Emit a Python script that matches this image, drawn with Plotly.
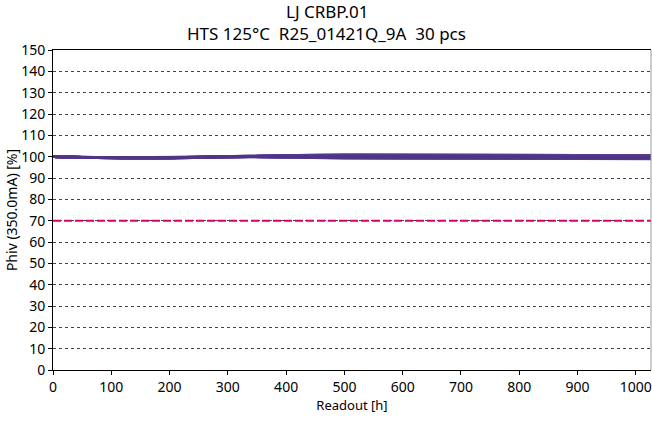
import plotly.graph_objects as go

readouts = [0, 168, 336, 504, 1026]
r0 = [100.0] * 30
r168 = [99.4,99.5,99.3,99.6,99.4,99.2,99.5,99.7,99.4,99.3,99.5,99.6,99.4,99.5,99.3,99.4,99.6,99.5,99.2,99.4,99.5,99.3,99.6,99.4,99.5,99.7,99.3,99.4,99.5,99.6]
r336 = [100.1,100.2,100.0,100.2,100.1,99.9,100.2,100.3,100.1,100.0,100.2,100.1,100.0,100.2,100.1,100.1,100.3,100.2,99.9,100.0,100.1,100.2,100.3,100.1,100.0,100.2,100.1,100.0,100.2,100.1]
r504 = [99.6,100.5,99.5,100.8,99.7,99.4,100.2,100.9,99.8,99.5,100.4,99.7,99.6,100.6,99.5,99.8,100.9,100.3,99.3,99.6,99.7,100.5,100.8,99.6,99.5,100.7,99.7,99.4,100.3,99.8]
r1026 = [99.3,100.2,99.2,100.5,99.4,99.0,99.9,100.6,99.5,99.1,100.1,99.4,99.3,100.3,99.2,99.5,100.6,100.0,98.9,99.3,99.4,100.2,100.5,99.3,99.2,100.4,99.4,99.1,100.0,99.5]
threshold = 70
y_ticks = list(range(0, 151, 10))
x_ticks = list(range(0, 1001, 100))
title_line1 = "LJ CRBP.01"
title_line2 = "HTS 125°C  R25_01421Q_9A  30 pcs"

FONT = "Noto Sans"
fig = go.Figure()

n = len(r0)
for i in range(n):
    t = 1 - i / (n - 1)  # lighter first, darker drawn last
    r = int(80 + (135 - 80) * t)
    g = int(52 + (112 - 52) * t)
    b = int(135 + (182 - 135) * t)
    ys = [r0[i], r168[i], r336[i], r504[i], r1026[i]]
    fig.add_trace(go.Scatter(x=readouts, y=ys, mode="lines",
                             line=dict(color=f"rgb({r},{g},{b})", width=2.5, shape="spline"),
                             showlegend=False, hoverinfo="skip"))

fig.add_trace(go.Scatter(x=[readouts[0], readouts[-1]], y=[threshold, threshold], mode="lines",
                         line=dict(color="#d6006f", width=2, dash="8px,3px"),
                         showlegend=False, hoverinfo="skip"))

fig.update_layout(
    width=652, height=421,
    margin=dict(l=53, r=1, t=50, b=51),
    paper_bgcolor="white", plot_bgcolor="white",
    font=dict(family=FONT, size=14, color="black"),
    xaxis=dict(range=[0, 1026], tickvals=x_ticks, showgrid=False, zeroline=False,
               showline=True, linecolor="black", linewidth=1, mirror=True,
               ticks="outside", ticklen=4, tickcolor="black", automargin=False,
               title=dict(text="Readout [h]", font=dict(family=FONT, size=13), standoff=6),
               tickfont=dict(family=FONT, size=14)),
    yaxis=dict(range=[0, 150], tickvals=y_ticks, showgrid=True, gridcolor="#444",
               griddash="dot", gridwidth=1, zeroline=False,
               showline=True, linecolor="black", linewidth=1,
               ticks="outside", ticklen=4, tickcolor="black", automargin=False,
               title=dict(text="Phiv (350.0mA) [%]", font=dict(family=FONT, size=14), standoff=0),
               tickfont=dict(family=FONT, size=14)),
    shapes=[dict(type="line", xref="paper", yref="paper", x0=1, x1=1, y0=0, y1=1,
                 line=dict(color="#999", width=1))],
    annotations=[
        dict(text=title_line1, xref="paper", yref="paper", x=0.458, y=1,
             xanchor="center", yanchor="bottom", yshift=25, showarrow=False,
             font=dict(family=FONT, size=17, color="black")),
        dict(text=title_line2, xref="paper", yref="paper", x=0.458, y=1,
             xanchor="center", yanchor="bottom", yshift=3, showarrow=False,
             font=dict(family=FONT, size=17, color="black")),
    ],
)

fig.write_html("out.html", config={"displayModeBar": False},
               post_script="document.body.style.margin='0';")
